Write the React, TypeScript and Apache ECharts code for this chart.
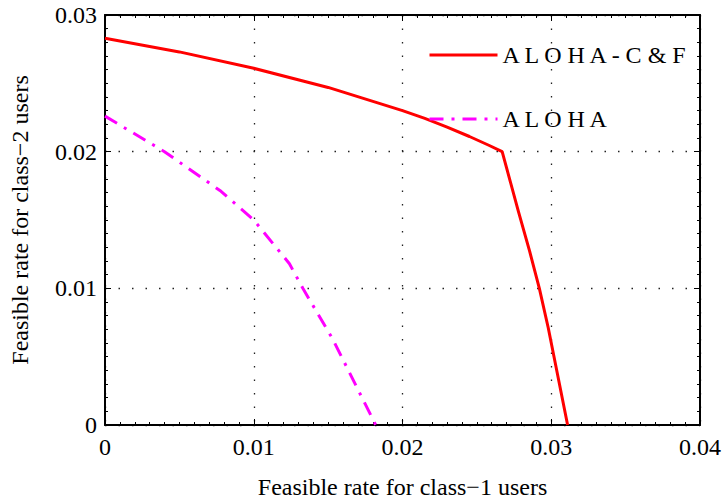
import React, { useEffect, useRef } from "react";
import * as echarts from "echarts";

const xTicks = [0, 0.01, 0.02, 0.03, 0.04];
const yTicks = [0, 0.01, 0.02, 0.03];

const alohaCFName = "ALOHA-C&F";
const alohaCFx = [0, 0.005, 0.01, 0.015, 0.02, 0.0215, 0.023, 0.0245, 0.0258, 0.0267, 0.0278, 0.02855, 0.0292, 0.0298, 0.0311];
const alohaCFy = [0.0283, 0.0273, 0.0261, 0.0247, 0.0230, 0.02243, 0.0218, 0.02111, 0.02047, 0.0200, 0.0156, 0.0127, 0.0100, 0.0071, 0];

const alohaName = "ALOHA";
const alohaX = [0, 0.004, 0.0078, 0.01, 0.0124, 0.0133, 0.0153, 0.0182];
const alohaY = [0.0226, 0.0200, 0.0171, 0.0150, 0.0118, 0.0100, 0.0063, 0];

const FONT = "'Liberation Serif', 'Times New Roman', Times, 'DejaVu Serif', serif";

function pairs(xs: number[], ys: number[]) {
  return xs.map((x, i) => [x, ys[i]]);
}

export default function App() {
  const ref = useRef<HTMLDivElement>(null);
  useEffect(() => {
    document.body.style.margin = "0";
    if (!ref.current) return;
    const chart = echarts.init(ref.current, undefined, { renderer: "svg" });
    const fmt = (v: number) => (v === 0 ? "0" : v.toFixed(2));
    const baseAxis = (min: number, max: number) => ({
      type: "value" as const,
      min,
      max,
      interval: 0.01,
      axisLine: { show: true, onZero: false, lineStyle: { color: "#000", width: 2 } },
      axisTick: { show: true, inside: true, length: 6, lineStyle: { color: "#000", width: 1 } },
      minorTick: { show: true, splitNumber: 10, length: 3, lineStyle: { color: "#000", width: 1 } },
    });
    const gridLine = { show: true, lineStyle: { color: "#222", type: [1.5, 12], width: 1.3 } };
    chart.setOption({
      animation: false,
      backgroundColor: "#fff",
      textStyle: { fontFamily: FONT },
      grid: { left: 100, right: 24, top: 15, bottom: 69, show: false },
      legend: {
        orient: "vertical",
        left: 423,
        top: 36,
        itemWidth: 68,
        itemHeight: 14,
        itemGap: 36,
        data: [alohaCFName, alohaName],
        itemStyle: { opacity: 0 },
        lineStyle: { width: 3 },
        formatter: (n: string) => n.split("").join(" "),
        textStyle: { fontFamily: FONT, fontSize: 24, color: "#000", lineHeight: 28 },
      },
      xAxis: [
        {
          ...baseAxis(0, 0.04),
          position: "bottom",
          name: "Feasible rate for class\u22121 users",
          nameLocation: "middle",
          nameGap: 50,
          nameTextStyle: { fontFamily: FONT, fontSize: 24, color: "#000" },
          axisLabel: {
            formatter: fmt,
            fontFamily: FONT,
            fontSize: 24,
            color: "#000",
            margin: 10,
            customValues: xTicks,
          },
          splitLine: gridLine,
        },
        {
          ...baseAxis(0, 0.04),
          position: "top",
          axisLabel: { show: false },
          splitLine: { show: false },
        },
      ],
      yAxis: [
        {
          ...baseAxis(0, 0.03),
          position: "left",
          name: "Feasible rate for class\u22122 users",
          nameLocation: "middle",
          nameGap: 73,
          nameTextStyle: { fontFamily: FONT, fontSize: 24, color: "#000" },
          axisLabel: {
            formatter: fmt,
            fontFamily: FONT,
            fontSize: 24,
            color: "#000",
            margin: 8,
            customValues: yTicks,
          },
          splitLine: gridLine,
        },
        {
          ...baseAxis(0, 0.03),
          position: "right",
          axisLabel: { show: false },
          splitLine: { show: false },
        },
      ],
      series: [
        {
          name: alohaCFName,
          type: "line",
          data: pairs(alohaCFx, alohaCFy),
          showSymbol: false,
          symbol: "none",
          color: "#ff0000",
          lineStyle: { color: "#ff0000", width: 3 },
        },
        {
          name: alohaName,
          type: "line",
          data: pairs(alohaX, alohaY),
          showSymbol: false,
          symbol: "none",
          color: "#ff00ff",
          lineStyle: { color: "#ff00ff", width: 3, type: [14, 8, 3, 8] },
        },
      ],
    });
    return () => chart.dispose();
  }, []);
  return <div ref={ref} style={{ width: 724, height: 504 }} />;
}
